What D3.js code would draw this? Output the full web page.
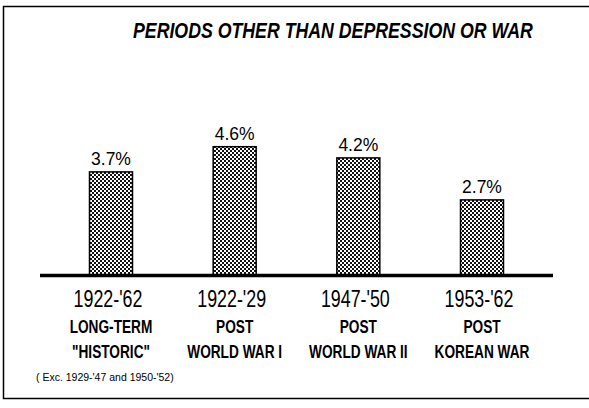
<!DOCTYPE html>
<html>
<head>
<meta charset="utf-8">
<script src="https://cdn.jsdelivr.net/npm/d3@7"></script>
<style>
  body { margin: 0; background: #fff; }
  text { fill: #000; }
</style>
</head>
<body>
<div id="chart"></div>
<script>
const title = "PERIODS OTHER THAN DEPRESSION OR WAR";
const periods = ["1922-'62", "1922-'29", "1947-'50", "1953-'62"];
const labelTop = ["LONG-TERM", "POST", "POST", "POST"];
const labelBottom = ["\"HISTORIC\"", "WORLD WAR I", "WORLD WAR II", "KOREAN WAR"];
const rates = [3.7, 4.6, 4.2, 2.7];
const footnote = "( Exc. 1929-'47 and 1950-'52)";

const width = 589, height = 408;
const baseY = 275.5;
const narrow = 0.76; // squeeze text to look like the condensed lettering

const svg = d3.select("#chart").append("svg")
  .attr("width", width)
  .attr("height", height);

// checker fill for the bars
const defs = svg.append("defs");
const pat = defs.append("pattern")
  .attr("id", "dots")
  .attr("width", 4).attr("height", 4)
  .attr("patternUnits", "userSpaceOnUse");
pat.append("rect").attr("width", 4).attr("height", 4).attr("fill", "#fff");
pat.append("rect").attr("width", 2).attr("height", 2).attr("fill", "#111");
pat.append("rect").attr("x", 2).attr("y", 2).attr("width", 2).attr("height", 2).attr("fill", "#111");

// frame (top, left, bottom)
svg.append("path")
  .attr("d", `M589,6.5 H3.5 V398.5 H589`)
  .attr("fill", "none")
  .attr("stroke", "#000")
  .attr("stroke-width", 1.5);

const t = svg.append("text")
  .attr("font-family", "Liberation Sans, Arial, sans-serif")
  .attr("font-weight", "bold")
  .attr("font-style", "italic")
  .attr("font-size", 22)
  .text(title);
const tw = t.node().getComputedTextLength();
t.attr("transform", `translate(133,38) scale(${400 / tw},1)`);

const x = d3.scalePoint().domain(periods).range([111, 482]);
const y = d3.scaleLinear().domain([0, 5]).range([baseY, baseY - 140]);
const barW = 43;

const bars = svg.append("g");
bars.selectAll("rect")
  .data(rates)
  .join("rect")
  .attr("x", (d, i) => x(periods[i]) - barW / 2)
  .attr("y", d => y(d))
  .attr("width", barW)
  .attr("height", d => baseY - y(d))
  .attr("fill", "url(#dots)")
  .attr("stroke", "#000")
  .attr("stroke-width", 1.5);

bars.selectAll("text")
  .data(rates)
  .join("text")
  .attr("x", (d, i) => x(periods[i]))
  .attr("y", d => y(d) - 7)
  .attr("text-anchor", "middle")
  .attr("font-family", "Liberation Sans, Arial, sans-serif")
  .attr("font-size", 17.5)
  .text(d => d + "%");

// baseline
svg.append("line")
  .attr("x1", 40).attr("x2", 553)
  .attr("y1", baseY).attr("y2", baseY)
  .attr("stroke", "#000")
  .attr("stroke-width", 3.5);

const labels = svg.append("g")
  .attr("font-family", "Liberation Sans, Arial, sans-serif")
  .attr("text-anchor", "middle");

labels.selectAll(".yr")
  .data(periods)
  .join("text")
  .attr("class", "yr")
  .attr("transform", d => `translate(${x(d) - 3},307) scale(0.76,1)`)
  .attr("font-size", 23.5)
  .text(d => d);

labels.selectAll(".l1")
  .data(labelTop)
  .join("text")
  .attr("class", "l1")
  .attr("transform", (d, i) => `translate(${x(periods[i])},333) scale(${narrow},1)`)
  .attr("font-size", 18)
  .attr("font-weight", "bold")
  .text(d => d);

labels.selectAll(".l2")
  .data(labelBottom)
  .join("text")
  .attr("class", "l2")
  .attr("transform", (d, i) => `translate(${x(periods[i])},358) scale(${narrow},1)`)
  .attr("font-size", 18)
  .attr("font-weight", "bold")
  .text(d => d);

svg.append("text")
  .attr("x", 36).attr("y", 381)
  .attr("font-family", "Liberation Sans, Arial, sans-serif")
  .attr("font-size", 10.5)
  .text(footnote);
</script>
</body>
</html>
